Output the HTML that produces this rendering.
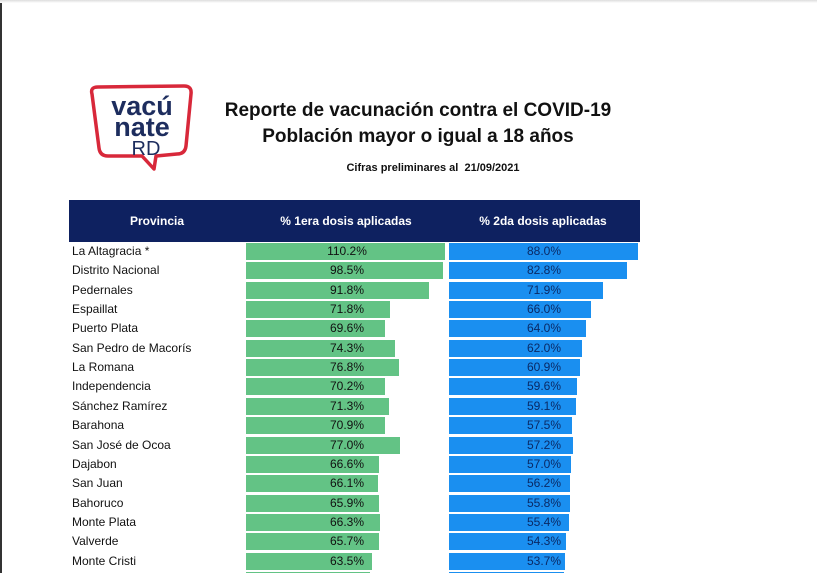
<!DOCTYPE html>
<html><head><meta charset="utf-8"><style>
html,body{margin:0;width:817px;height:573px;overflow:hidden;background:#fff;position:relative;font-family:"Liberation Sans",sans-serif;}
.a{position:absolute;}
.t{font-weight:bold;color:#111;text-align:center;left:218px;width:400px;}
.hdr{left:69px;top:200px;width:571px;height:42px;background:#0e2160;color:#fff;font-weight:bold;font-size:12px;}
.hdr span{position:absolute;top:14px;text-align:center;}
.row{position:absolute;left:0;height:19px;width:817px;font-size:12px;color:#111;}
.row .n{position:absolute;left:72px;top:2px;}
.g{position:absolute;left:246px;top:1px;height:17px;background:#63c385;}
.b{position:absolute;left:449px;top:1px;height:17px;background:#1a8ff0;}
.v1,.v2{position:absolute;top:2px;width:100px;text-align:center;}
.v1{left:297px;}.v2{left:494px;color:#0a2a66;}
</style></head><body>
<div class="a" style="left:0;top:0;width:2px;height:573px;background:#333"></div>
<div class="a" style="left:0;top:0;width:817px;height:3px;background:linear-gradient(#ddd,#fff)"></div>
<svg class="a" style="left:86px;top:84px" width="110" height="88" viewBox="0 0 110 88">
<path d="M6 10 Q4 3 12 3 L98 2 Q106 2 105 10 L100 62 Q99 70 91 70 L70 72 L68 85 L56 72 L22 72 Q14 72 13 64 Z" fill="none" stroke="#d8283a" stroke-width="3.5" stroke-linejoin="round"/>
<text x="56" y="31" text-anchor="middle" font-family="Liberation Sans" font-weight="bold" font-size="27" fill="#1d2d5e">vacú</text>
<text x="56" y="52" text-anchor="middle" font-family="Liberation Sans" font-weight="bold" font-size="27" fill="#1d2d5e">nate</text>
<text x="60" y="71" text-anchor="middle" font-family="Liberation Sans" font-size="20" fill="#1d2d5e">RD</text>
</svg>
<div class="a t" style="top:100px;font-size:19px">Reporte de vacunación contra el COVID-19</div>
<div class="a t" style="top:126px;font-size:19px">Población mayor o igual a 18 años</div>
<div class="a t" style="top:162px;font-size:11px;left:233px">Cifras preliminares al&nbsp; 21/09/2021</div>
<div class="a hdr"><span style="left:38px;width:100px">Provincia</span><span style="left:177px;width:200px">% 1era dosis aplicadas</span><span style="left:374px;width:200px">% 2da dosis aplicadas</span></div>
<div id="rows"></div>
<script>
var d=[["La Altagracia *","110.2%",445,"88.0%",638],["Distrito Nacional","98.5%",443,"82.8%",627],["Pedernales","91.8%",429,"71.9%",603],["Espaillat","71.8%",390,"66.0%",591],["Puerto Plata","69.6%",385,"64.0%",586],["San Pedro de Macorís","74.3%",395,"62.0%",582],["La Romana","76.8%",399,"60.9%",580],["Independencia","70.2%",385,"59.6%",577],["Sánchez Ramírez","71.3%",389,"59.1%",576],["Barahona","70.9%",385,"57.5%",572],["San José de Ocoa","77.0%",400,"57.2%",573],["Dajabon","66.6%",379,"57.0%",571],["San Juan","66.1%",378,"56.2%",570],["Bahoruco","65.9%",379,"55.8%",570],["Monte Plata","66.3%",380,"55.4%",569],["Valverde","65.7%",379,"54.3%",566],["Monte Cristi","63.5%",372,"53.7%",565],["","",370,"",564]];
var h="";d.forEach(function(r,i){var y=242+i*19.35;h+='<div class="row" style="top:'+y+'px"><span class="n">'+r[0]+'</span><div class="g" style="width:'+(r[2]-246)+'px"></div><div class="b" style="width:'+(r[4]-449)+'px"></div><span class="v1">'+r[1]+'</span><span class="v2">'+r[3]+'</span></div>';});
document.getElementById("rows").innerHTML=h;
</script>
</body></html>
